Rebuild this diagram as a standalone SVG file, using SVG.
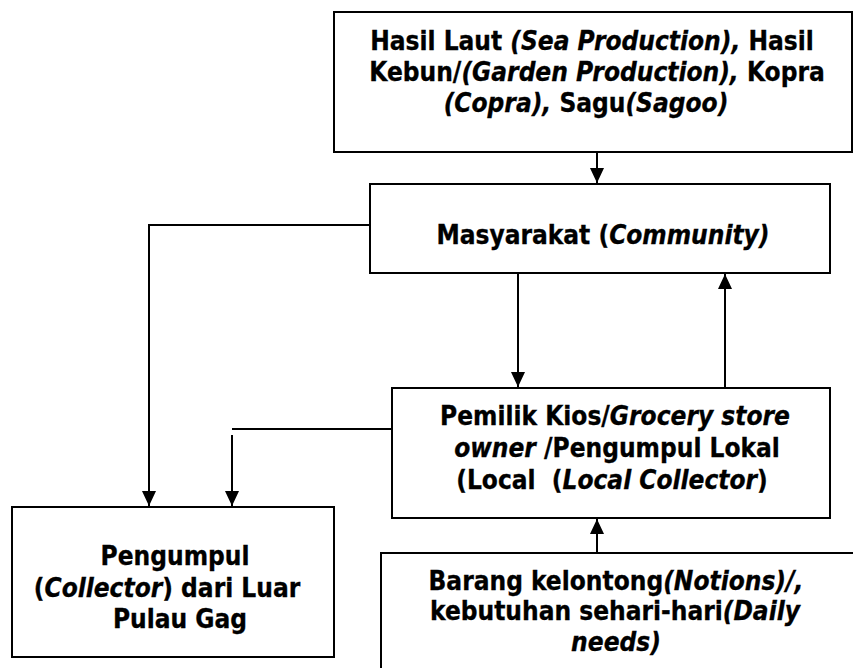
<svg xmlns="http://www.w3.org/2000/svg" width="853" height="668" viewBox="0 0 853 668">
<style>
.box{fill:#fff;stroke:#000;stroke-width:2}
.t{font-family:"DejaVu Sans Condensed","DejaVu Sans",sans-serif;font-weight:bold;font-size:26px;fill:#000;stroke:#000;stroke-width:0.3;text-anchor:middle;white-space:pre}
.i{font-style:italic}
.c{fill:none;stroke:#000;stroke-width:2}
</style>
<defs>
<marker id="ah" viewBox="0 0 15 14" refX="15" refY="7" markerWidth="15" markerHeight="14" markerUnits="userSpaceOnUse" orient="auto">
<path d="M0,0 L15,7 L0,14 Z" fill="#000"/>
</marker>
</defs>
<rect width="853" height="668" fill="#fff"/>
<g id="n1">
<rect class="box" x="334" y="12" width="518" height="140"/>
<text class="t" x="592" y="50">Hasil Laut <tspan class="i">(Sea Production),</tspan> Hasil</text>
<text class="t" x="597" y="81">Kebun/<tspan class="i">(Garden Production),</tspan> Kopra</text>
<text class="t" x="586" y="112"><tspan class="i">(Copra),</tspan> Sagu<tspan class="i">(Sagoo)</tspan></text>
</g>
<g id="n2">
<rect class="box" x="370" y="184" width="460" height="89"/>
<text class="t" x="603" y="244">Masyarakat (<tspan class="i">Community)</tspan></text>
</g>
<g id="n3">
<rect class="box" x="392" y="388" width="438" height="130"/>
<text class="t" x="615" y="425">Pemilik Kios/<tspan class="i">Grocery store</tspan></text>
<text class="t" x="617" y="457"><tspan class="i">owner</tspan> /Pengumpul Lokal</text>
<text class="t" x="612" y="489">(Local  (<tspan class="i">Local Collector</tspan>)</text>
</g>
<g id="n4">
<rect class="box" x="12" y="507" width="322" height="150"/>
<text class="t" x="175" y="565">Pengumpul</text>
<text class="t" x="167" y="597">(<tspan class="i">Collector</tspan>) dari Luar</text>
<text class="t" x="180" y="628">Pulau Gag</text>
</g>
<g id="n5">
<rect class="box" x="381" y="553" width="480" height="130"/>
<text class="t" x="616" y="590">Barang kelontong<tspan class="i">(Notions)/,</tspan></text>
<text class="t" x="615" y="620">kebutuhan sehari-hari<tspan class="i">(Daily</tspan></text>
<text class="t" x="616" y="651" font-style="italic">needs)</text>
</g>
<g id="connectors">
<path class="c" d="M597,152 V183" marker-end="url(#ah)"/>
<path class="c" d="M370,225 H149 V506" marker-end="url(#ah)"/>
<path class="c" d="M518,273 V387" marker-end="url(#ah)"/>
<path class="c" d="M725,388 V274" marker-end="url(#ah)"/>
<path class="c" d="M392,429 H232"/>
<path class="c" d="M232,435 V506" marker-end="url(#ah)"/>
<path class="c" d="M597,553 V519" marker-end="url(#ah)"/>
</g>
</svg>
